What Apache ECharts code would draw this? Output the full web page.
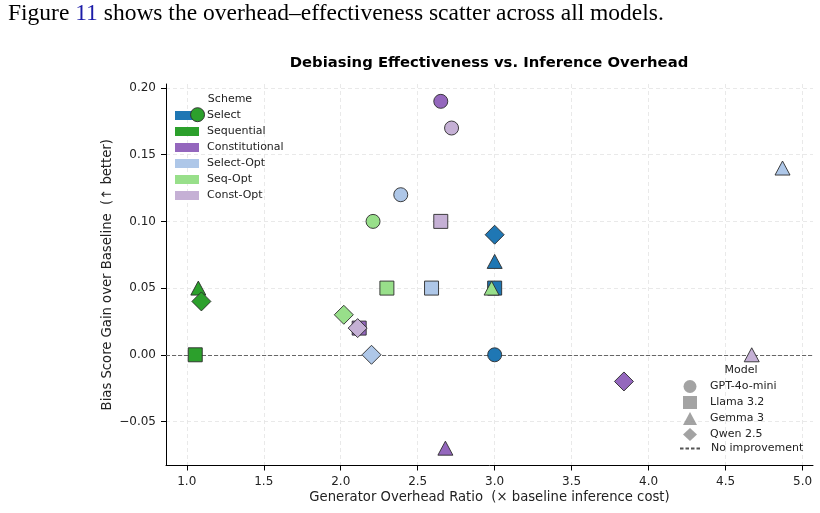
<!DOCTYPE html>
<html>
<head>
<meta charset="utf-8">
<script src="https://cdn.jsdelivr.net/npm/echarts@6/dist/echarts.min.js"></script>
<style>
html,body{margin:0;padding:0;background:#fff;}
#c{width:820px;height:513px;}
</style>
</head>
<body>
<div id="c"></div>
<script>
// ---- data ----
const schemes = ['Select', 'Sequential', 'Constitutional', 'Select-Opt', 'Seq-Opt', 'Const-Opt'];
const models = ['GPT-4o-mini', 'Llama 3.2', 'Gemma 3', 'Qwen 2.5'];
// overhead ratio per scheme, in model order
const selectX = [3.00, 3.00, 3.00, 3.00];
const sequentialX = [1.07, 1.055, 1.075, 1.095];
const constitutionalX = [2.65, 2.12, 2.68, 3.84];
const selectOptX = [2.39, 2.59, 4.87, 2.20];
const seqOptX = [2.21, 2.30, 2.98, 2.02];
const constOptX = [2.72, 2.65, 4.67, 2.11];
// bias score gain per scheme, in model order
const selectY = [0.00, 0.05, 0.07, 0.09];
const sequentialY = [0.18, 0.00, 0.05, 0.04];
const constitutionalY = [0.19, 0.02, -0.07, -0.02];
const selectOptY = [0.12, 0.05, 0.14, 0.00];
const seqOptY = [0.10, 0.05, 0.05, 0.03];
const constOptY = [0.17, 0.10, 0.00, 0.02];
const baselineValue = 0;
const xTicks = [1.0, 1.5, 2.0, 2.5, 3.0, 3.5, 4.0, 4.5, 5.0];
const yTicks = [-0.05, 0.00, 0.05, 0.10, 0.15, 0.20];

// ---- styles ----
const xsAll = [selectX, sequentialX, constitutionalX, selectOptX, seqOptX, constOptX];
const ysAll = [selectY, sequentialY, constitutionalY, selectOptY, seqOptY, constOptY];
const colors = ['#1f77b4', '#2ca02c', '#9467bd', '#aec7e8', '#98df8a', '#c5b0d5'];
const symbols = ['circle', 'rect', 'triangle', 'diamond'];
const sizes = [14, 14, [15, 14], 19];
const FONT = 'DejaVu Sans';

const series = schemes.map((name, i) => ({
  type: 'scatter',
  name: name,
  z: 6,
  data: xsAll[i].map((x, j) => ({
    value: [x, ysAll[i][j]],
    symbol: symbols[j],
    symbolSize: sizes[j]
  })),
  itemStyle: { color: colors[i], borderColor: '#2b2b2b', borderWidth: 0.9, opacity: 1 },
  emphasis: { disabled: true }
}));
models.forEach((m, j) => series.push({
  type: 'scatter', name: m, data: [], symbol: symbols[j],
  itemStyle: { color: '#8c8c8c', borderWidth: 0 }
}));
series.push({
  type: 'line', name: 'No improvement', data: [], symbol: 'none', z: 3,
  itemStyle: { color: 'rgba(0,0,0,0)', borderWidth: 0 },
  lineStyle: { color: '#555', width: 1, type: [3.5, 2] },
  markLine: {
    silent: true, symbol: 'none', label: { show: false },
    lineStyle: { color: '#666', width: 1, type: [4, 2] },
    data: [{ yAxis: baselineValue }]
  }
});

const fmtY = v => (v < 0 ? '\u2212' : '') + Math.abs(v).toFixed(2);

const option = {
  animation: false,
  backgroundColor: '#fff',
  title: [
    {
      text: 'Figure {b|11} shows the overhead\u2013effectiveness scatter across all models.',
      left: 8, top: 2, padding: 0,
      textStyle: { fontFamily: 'Liberation Serif', fontSize: 23.5, fontWeight: 'normal', color: '#000',
        rich: { b: { fontFamily: 'Liberation Serif', fontSize: 23.5, color: '#1c1ca8' } } }
    },
    {
      text: 'Debiasing Effectiveness vs. Inference Overhead',
      left: 489, top: 56, textAlign: 'center', padding: 0,
      textStyle: { fontFamily: FONT, fontSize: 14.8, fontWeight: 'bold', color: '#000' }
    },
    {
      text: 'Scheme', left: 230, top: 94, textAlign: 'center', padding: 0,
      textStyle: { fontFamily: FONT, fontSize: 11, fontWeight: 'normal', color: '#222' }
    },
    {
      text: 'Model', left: 741, top: 365, textAlign: 'center', padding: 0,
      textStyle: { fontFamily: FONT, fontSize: 11, fontWeight: 'normal', color: '#222' }
    }
  ],
  legend: [
    {
      data: schemes, orient: 'vertical', left: 175, top: 110, padding: 0,
      itemWidth: 24, itemHeight: 9, itemGap: 5, selectedMode: false, icon: 'rect',
      itemStyle: { borderWidth: 0 },
      textStyle: { fontFamily: FONT, fontSize: 11, color: '#222', padding: [0, 0, 0, 3] }
    },
    {
      data: models.map((m, j) => ({ name: m, icon: symbols[j] })), orient: 'vertical',
      left: 683, top: 380, padding: 0,
      itemWidth: 14, itemHeight: 13, itemGap: 3, selectedMode: false,
      itemStyle: { borderWidth: 0 },
      textStyle: { fontFamily: FONT, fontSize: 11, color: '#222', padding: [0, 0, 0, 8] }
    },
    {
      data: ['No improvement'], orient: 'vertical', left: 679, top: 443, padding: 0,
      itemWidth: 21, itemHeight: 13, selectedMode: false,
      textStyle: { fontFamily: FONT, fontSize: 11, color: '#222', padding: [0, 0, 0, 5] }
    }
  ],
  grid: { left: 166, right: 7, top: 84, bottom: 47.5, containLabel: false },
  xAxis: {
    type: 'value', min: 0.865, max: 5.068,
    name: 'Generator Overhead Ratio  (\u00d7 baseline inference cost)',
    nameLocation: 'middle', nameGap: 26, nameMoveOverlap: false,
    nameTextStyle: { fontFamily: FONT, fontSize: 13.2, color: '#222' },
    axisLine: { show: true, onZero: false, lineStyle: { color: '#000', width: 1 } },
    axisTick: { show: true, length: 5, customValues: xTicks, lineStyle: { color: '#000' } },
    axisLabel: { customValues: xTicks, formatter: v => v.toFixed(1), fontFamily: FONT, fontSize: 12, color: '#222', margin: 10 },
    splitLine: { show: true, lineStyle: { color: '#e3e3e3', width: 0.8, type: [4, 3] } }
  },
  yAxis: {
    type: 'value', min: -0.083, max: 0.203,
    name: 'Bias Score Gain over Baseline  (\u2191 better)',
    nameLocation: 'middle', nameGap: 52, nameRotate: 90, nameMoveOverlap: false,
    nameTextStyle: { fontFamily: FONT, fontSize: 13.2, color: '#222' },
    axisLine: { show: true, onZero: false, lineStyle: { color: '#000', width: 1 } },
    axisTick: { show: true, length: 5, customValues: yTicks, lineStyle: { color: '#000' } },
    axisLabel: { customValues: yTicks, formatter: fmtY, fontFamily: FONT, fontSize: 12, color: '#222', margin: 10 },
    splitLine: { show: true, lineStyle: { color: '#e3e3e3', width: 0.8, type: [4, 3] } }
  },
  series: series
};

const chart = echarts.init(document.getElementById('c'), null, { renderer: 'canvas' });
chart.setOption(option);
</script>
</body>
</html>
